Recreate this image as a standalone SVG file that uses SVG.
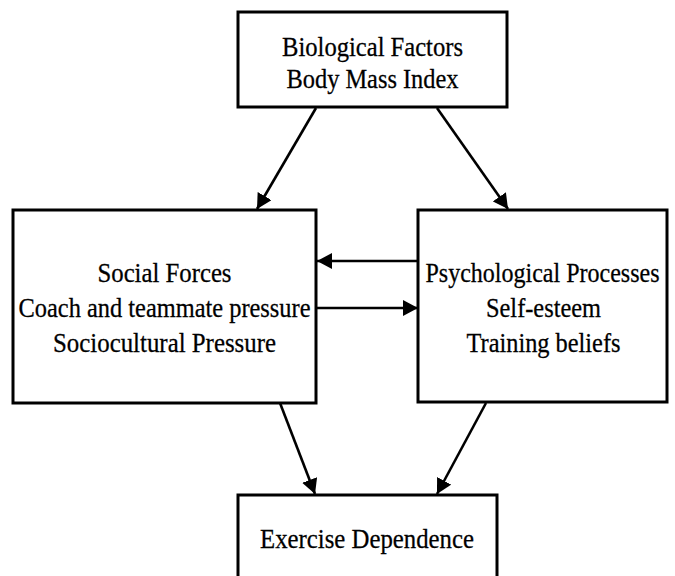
<svg xmlns="http://www.w3.org/2000/svg" width="675" height="576" viewBox="0 0 675 576">
<style>
.box{fill:#fff;stroke:#000;stroke-width:3}
.t{font-family:"Liberation Serif","Times New Roman",serif;font-size:24.7px;fill:#000;stroke:#000;stroke-width:0.25;text-anchor:middle}
.c{stroke:#000;stroke-width:2.6;fill:none;marker-end:url(#ah)}
</style>
<defs>
<marker id="ah" viewBox="0 0 15 16" refX="15" refY="8" markerWidth="15" markerHeight="16" markerUnits="userSpaceOnUse" orient="auto">
<path d="M0,0 L15,8 L0,16 Z" fill="#000"/>
</marker>
</defs>
<rect width="675" height="576" fill="#fff"/>
<g id="connectors">
<line class="c" x1="316" y1="108" x2="257" y2="209"/>
<line class="c" x1="437" y1="108" x2="508" y2="209"/>
<line class="c" x1="418" y1="261" x2="317" y2="261"/>
<line class="c" x1="316" y1="308" x2="418" y2="308"/>
<line class="c" x1="280" y1="403" x2="315" y2="494"/>
<line class="c" x1="486" y1="403" x2="437" y2="494"/>
</g>
<g id="biological">
<rect class="box" x="238" y="12" width="269" height="95"/>
<text class="t" transform="translate(372.5,55.5) scale(1,1.13)" x="0" y="0" textLength="181" lengthAdjust="spacingAndGlyphs">Biological Factors</text>
<text class="t" transform="translate(372.5,87.5) scale(1,1.13)" x="0" y="0" textLength="172" lengthAdjust="spacingAndGlyphs">Body Mass Index</text>
</g>
<g id="social">
<rect class="box" x="13" y="210" width="303" height="193"/>
<text class="t" transform="translate(164.5,282) scale(1,1.13)" x="0" y="0" textLength="134" lengthAdjust="spacingAndGlyphs">Social Forces</text>
<text class="t" transform="translate(164.5,317) scale(1,1.13)" x="0" y="0" textLength="292" lengthAdjust="spacingAndGlyphs">Coach and teammate pressure</text>
<text class="t" transform="translate(164.5,352) scale(1,1.13)" x="0" y="0" textLength="223" lengthAdjust="spacingAndGlyphs">Sociocultural Pressure</text>
</g>
<g id="psychological">
<rect class="box" x="418" y="210" width="249" height="192"/>
<text class="t" transform="translate(542.5,282) scale(1,1.13)" x="0" y="0" textLength="234" lengthAdjust="spacingAndGlyphs">Psychological Processes</text>
<text class="t" transform="translate(543.5,317) scale(1,1.13)" x="0" y="0" textLength="115" lengthAdjust="spacingAndGlyphs">Self-esteem</text>
<text class="t" transform="translate(543.5,352) scale(1,1.13)" x="0" y="0" textLength="154" lengthAdjust="spacingAndGlyphs">Training beliefs</text>
</g>
<g id="exercise">
<rect class="box" x="238" y="495" width="259" height="90"/>
<text class="t" transform="translate(367,548) scale(1,1.13)" x="0" y="0" textLength="214" lengthAdjust="spacingAndGlyphs">Exercise Dependence</text>
</g>
</svg>
